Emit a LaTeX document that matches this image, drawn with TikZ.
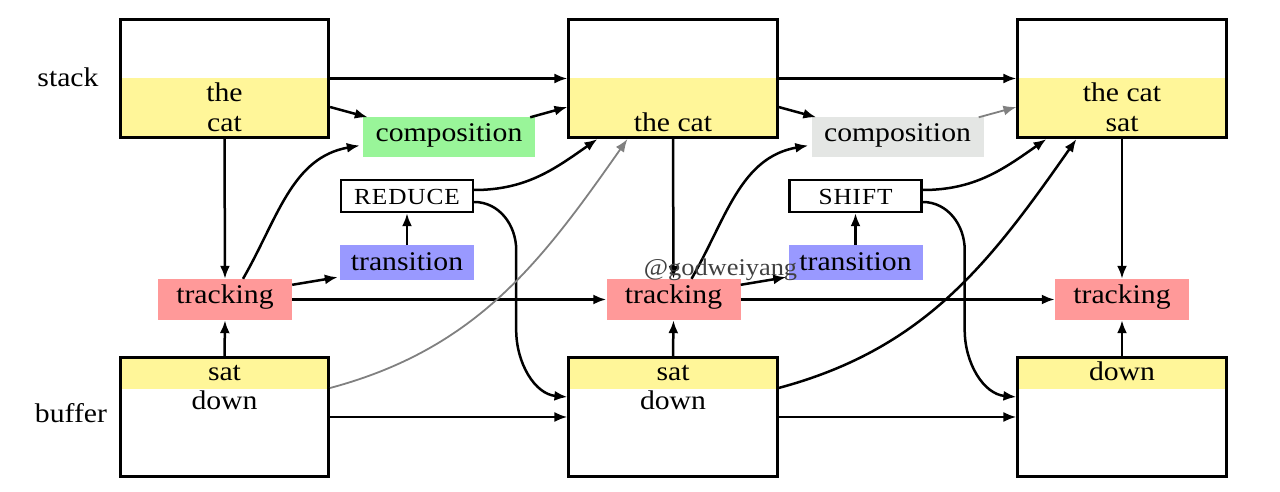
\documentclass[tikz,border=0pt]{standalone}
\usepackage{fontspec}
\setmainfont{Liberation Serif}[FakeStretch=1.1]
\usetikzlibrary{arrows.meta,calc}
\definecolor{yel}{RGB}{255,246,153}
\definecolor{trk}{RGB}{255,153,153}
\definecolor{trn}{RGB}{153,153,255}
\definecolor{cmpgreen}{RGB}{153,245,153}
\definecolor{cmpgray}{RGB}{228,230,228}
\begin{document}
\begin{tikzpicture}[x=1pt,y=1pt,
  every node/.style={font=\fontsize{27}{30}\selectfont},
  stackbox/.style={draw, line width=2.6pt, minimum width=208.5pt, minimum height=118.5pt, inner sep=0pt,
    path picture={\fill[yel] (path picture bounding box.west) rectangle (path picture bounding box.south east);}},
  bufbox/.style={draw, line width=2.6pt, minimum width=208.5pt, minimum height=119.5pt, inner sep=0pt,
    path picture={\fill[yel] (path picture bounding box.north west) rectangle ([yshift=-32pt]path picture bounding box.north east);}},
  tbox/.style={fill=trk, minimum width=134pt, minimum height=41pt, inner sep=0pt, text height=15pt, text depth=6pt},
  trbox/.style={fill=trn, minimum width=134pt, minimum height=35pt, inner sep=0pt, text height=20pt, text depth=4pt},
  opbox/.style={draw, line width=2.4pt, minimum width=132pt, minimum height=32pt, inner sep=0pt,
    font=\fontsize{23}{26}\selectfont\addfontfeature{LetterSpace=4}, text height=18.5pt, text depth=1.5pt},
  cbox/.style={minimum width=172pt, minimum height=40pt, inner sep=0pt, text height=15pt, text depth=6pt},
  arr/.style={-{Latex[length=13pt,width=10pt]}, line width=2.5pt},
  garr/.style={-{Latex[length=13pt,width=10pt]}, line width=1.8pt, draw=black!50},
  lbl/.style={anchor=base, inner sep=0pt}
]
\useasboundingbox (0,0) rectangle (1280,492);

% side labels
\node[lbl] (stk) at (68,405) {stack};
\node[lbl] (buf) at (71,69) {buffer};

% stack boxes
\node[stackbox] (s1) at (224.5,413.5) {};
\node[stackbox] (s2) at (673,413.5) {};
\node[stackbox] (s3) at (1122,413.5) {};
% buffer boxes
\node[bufbox] (b1) at (224.5,75) {};
\node[bufbox] (b2) at (673,75) {};
\node[bufbox] (b3) at (1122,75) {};

% texts in boxes
\node[lbl] (s1a) at (224.5,390) {the};
\node[lbl] (s1b) at (224.5,360) {cat};
\node[lbl] (s2a) at (673,360) {the cat};
\node[lbl] (s3a) at (1122,390) {the cat};
\node[lbl] (s3b) at (1122,360) {sat};
\node[lbl] (b1a) at (224.5,111) {sat};
\node[lbl] (b1b) at (224.5,82) {down};
\node[lbl] (b2a) at (673,111) {sat};
\node[lbl] (b2b) at (673,82) {down};
\node[lbl] (b3a) at (1122,111) {down};

% tracking
\node[tbox] (t1) at (225,192.5) {tracking};
\node[tbox] (t2) at (673.5,192.5) {tracking};
\node[tbox] (t3) at (1122,192.5) {tracking};
% transition
\node[trbox] (tr1) at (407,229.5) {transition};
\node[trbox] (tr2) at (855.5,229.5) {transition};
% operations
\node[opbox] (r1) at (407,296) {REDUCE};
\node[opbox] (r2) at (855.5,296) {SHIFT};
% composition
\node[cbox, fill=cmpgreen] (c1) at (449,354.5) {composition};
\node[cbox, fill=cmpgray] (c2) at (897.5,354.5) {composition};

% column 1 connectors
\draw[arr] (s1.east) -- (s2.west);
\draw[arr] ([yshift=-28.5pt]s1.east) -- ([xshift=5pt]c1.north west);
\draw[arr] ([xshift=-5pt]c1.north east) -- ([yshift=-28.5pt]s2.west);
\draw[arr] (s1.south) -- (t1.north);
\draw[arr] ([xshift=18pt]t1.north) to[out=60,in=190] ([xshift=-3pt,yshift=-8pt]c1.west);
\draw[arr] ([yshift=-6pt]t1.north east) -- ([xshift=-2pt,yshift=3pt]tr1.south west);
\draw[arr] (tr1.north) -- (r1.south);
\draw[arr] ([yshift=6pt]r1.east) to[out=0,in=215] ([xshift=30pt]s2.south west);
\draw[arr] ([yshift=-6pt]r1.east) to[out=0,in=90] ++(42,-48) -- ++(0,-80) to[out=-90,in=175] ([yshift=20pt]b2.west);
\draw[arr] (t1.east) -- (t2.west);
\draw[garr] ([yshift=29pt]b1.east) to[out=15,in=235] ([xshift=60pt]s2.south west);
\draw[arr] (b1.east) -- (b2.west);
\draw[arr] (b1.north) -- (t1.south);

% column 2 connectors
\draw[arr] (s2.east) -- (s3.west);
\draw[arr] ([yshift=-28.5pt]s2.east) -- ([xshift=5pt]c2.north west);
\draw[garr] ([xshift=-5pt]c2.north east) -- ([yshift=-28.5pt]s3.west);
\draw[arr] (s2.south) -- (t2.north);
\draw[arr] ([xshift=18pt]t2.north) to[out=60,in=190] ([xshift=-3pt,yshift=-8pt]c2.west);
\draw[arr] ([yshift=-6pt]t2.north east) -- ([xshift=-2pt,yshift=3pt]tr2.south west);
\draw[arr] (tr2.north) -- (r2.south);
\draw[arr] ([yshift=6pt]r2.east) to[out=0,in=215] ([xshift=30pt]s3.south west);
\draw[arr] ([yshift=-6pt]r2.east) to[out=0,in=90] ++(42,-48) -- ++(0,-80) to[out=-90,in=175] ([yshift=20pt]b3.west);
\draw[arr] (t2.east) -- (t3.west);
\draw[arr] ([yshift=29pt]b2.east) to[out=15,in=235] ([xshift=60pt]s3.south west);
\draw[arr] (b2.east) -- (b3.west);
\draw[arr] (b2.north) -- (t2.south);

% column 3 connectors
\draw[arr] (s3.south) -- (t3.north);
\draw[arr] (b3.north) -- (t3.south);

% watermark
\node[lbl, text=black!75, font=\fontsize{24}{28}\selectfont] (wm) at (720.5,216) {@godweiyang};
\end{tikzpicture}
\end{document}
